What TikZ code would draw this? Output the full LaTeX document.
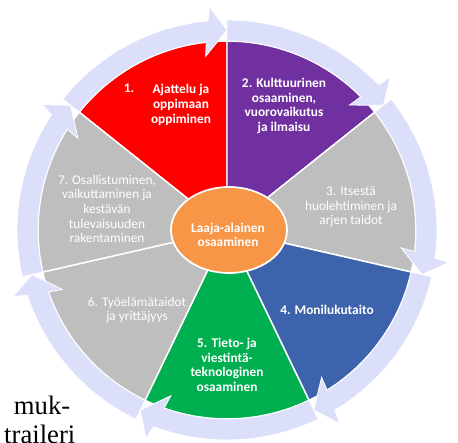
\documentclass[tikz,border=0pt]{standalone}
\usepackage{fontspec}
\setmainfont{Carlito}
\newfontfamily\pagefont{Liberation Serif}
\usepackage{xcolor}
\usepackage{tikz}
\definecolor{ringc}{RGB}{220,223,250}
\definecolor{redc}{RGB}{255,0,0}
\definecolor{purplec}{RGB}{112,48,160}
\definecolor{greyc}{RGB}{190,190,190}
\definecolor{bluec}{RGB}{62,99,173}
\definecolor{greenc}{RGB}{0,176,80}
\definecolor{orangec}{RGB}{247,150,70}
\tikzstyle{wedge} = [draw=white, line width=1.1pt]
\tikzstyle{ringarrow} = [fill=ringc, draw=white, line width=0.6pt]
\tikzstyle{boldlabel} = [text=white, align=center, font=\fontsize{10}{11}\selectfont\bfseries]
\tikzstyle{thinlabel} = [text=white, align=center, font=\fontsize{10}{11}\selectfont]

\begin{document}
\begin{tikzpicture}[x=0.75pt,y=0.75pt]
\path[use as bounding box] (-227,-213) rectangle (231,230);
\clip (-227,-213) rectangle (231,230);
\filldraw[wedge, fill=redc] (0,0) -- (141.43:189) arc[start angle=141.43, end angle=90, radius=189] -- cycle;
\filldraw[wedge, fill=purplec] (0,0) -- (90:189) arc[start angle=90, end angle=38.57, radius=189] -- cycle;
\filldraw[wedge, fill=greyc] (0,0) -- (38.57:189) arc[start angle=38.57, end angle=-12.86, radius=189] -- cycle;
\filldraw[wedge, fill=bluec] (0,0) -- (-12.86:189) arc[start angle=-12.86, end angle=-64.29, radius=189] -- cycle;
\filldraw[wedge, fill=greenc] (0,0) -- (-64.29:189) arc[start angle=-64.29, end angle=-115.71, radius=189] -- cycle;
\filldraw[wedge, fill=greyc] (0,0) -- (-115.71:189) arc[start angle=-115.71, end angle=-167.14, radius=189] -- cycle;
\filldraw[wedge, fill=greyc] (0,0) -- (-167.14:189) arc[start angle=-167.14, end angle=-218.57, radius=189] -- cycle;
\foreach \k in {0,...,6} {
  \pgfmathsetmacro{\b}{90-\k*360/7}
  \pgfmathsetmacro{\a}{\b+360/7}
  \filldraw[ringarrow] (\a:210) arc[start angle=\a, end angle=\b+5.2, radius=210]
    -- ({\b+4.5}:224) -- (\b:200) -- ({\b+7}:175) -- ({\b+6.3}:189)
    arc[start angle=\b+6.3, end angle=\a, radius=189] -- cycle;
}
\filldraw[fill=orangec, draw=white, line width=1.3pt] (2,0) ellipse (58 and 43);
\node[boldlabel] (laaja) at (1,-5) {Laaja-alainen\\osaaminen};
\node[boldlabel] (ajattelu) at (-46,125) {Ajattelu ja\\oppimaan\\oppiminen};
\node[boldlabel, anchor=base] (yksi) at (-98,137) {1.};
\node[boldlabel] (kulttuuri) at (57,124) {2. Kulttuurinen\\osaaminen,\\vuorovaikutus\\ja ilmaisu};
\node[thinlabel] (itsesta) at (124,23) {3. Itsestä\\huolehtiminen ja\\arjen taidot};
\node[boldlabel] (moniluku) at (100,-80) {4. Monilukutaito};
\node[boldlabel] (tieto) at (0,-135) {5. Tieto- ja\\viestintä-\\teknologinen\\osaaminen};
\node[thinlabel] (tyoelama) at (-90,-80) {6. Työelämätaidot\\ja yrittäjyys};
\node[thinlabel] (osallistuminen) at (-120,21) {7. Osallistuminen,\\vaikuttaminen ja\\kestävän\\tulevaisuuden\\rakentaminen};
\node[anchor=base east, font=\pagefont\fontsize{20}{24}\selectfont] (muk) at (-152,-184) {muk-};
\node[anchor=base east, font=\pagefont\fontsize{20}{24}\selectfont] (traileri) at (-147,-214) {traileri};
\end{tikzpicture}
\end{document}
